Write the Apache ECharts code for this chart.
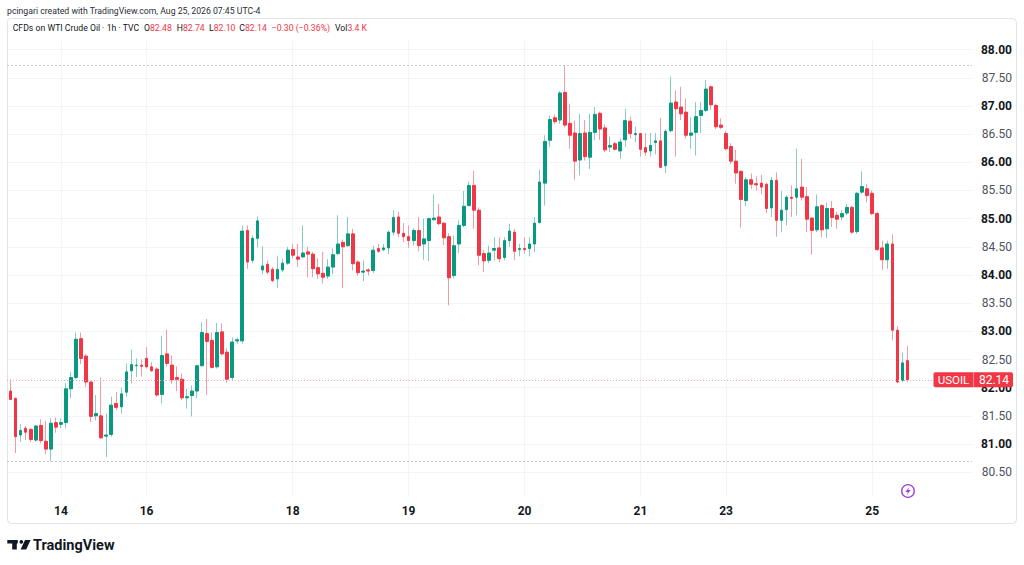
<!DOCTYPE html>
<html><head><meta charset="utf-8">
<script src="https://cdn.jsdelivr.net/npm/echarts@6/dist/echarts.min.js"></script>
<style>html,body{margin:0;padding:0;background:#fff}#c{width:1024px;height:565px}</style>
</head><body><div id="c"></div>
<script>
// ---- data (1h candles, Aug 13 – Aug 25) ----
const opens = [
82.60,81.94,81.81,81.16,81.28,81.26,81.07,81.33,81.05,80.91,
81.38,81.35,81.38,81.98,82.18,82.87,82.56,82.10,81.50,81.50,
81.14,81.17,81.72,81.66,81.92,82.30,82.39,82.40,82.52,82.37,
82.33,81.88,82.60,82.40,82.18,82.15,81.82,81.86,81.94,82.39,
82.96,82.84,82.37,82.99,82.63,82.18,82.83,82.83,84.79,84.26,
84.65,84.09,84.19,84.10,83.93,84.09,84.21,84.45,84.32,84.32,
84.41,84.37,84.13,84.03,83.98,84.14,84.38,84.58,84.52,84.73,
84.23,84.05,84.09,84.08,84.47,84.45,84.48,84.76,85.03,84.74,
84.68,84.61,84.79,84.55,84.61,84.98,85.03,84.92,84.68,83.99,
84.55,84.88,85.23,85.59,85.15,84.38,84.26,84.44,84.48,84.31,
84.61,84.76,84.45,84.47,84.47,84.55,84.93,85.63,86.39,86.79,
86.75,87.24,86.69,86.52,86.04,86.52,86.09,86.53,86.87,86.61,
86.27,86.33,86.20,86.40,86.73,86.49,86.51,86.26,86.20,86.35,
86.38,85.94,86.56,87.07,86.98,86.89,86.48,86.53,86.83,86.92,
87.34,87.01,86.66,86.51,86.28,86.02,85.84,85.32,85.69,85.62,
85.63,85.61,85.19,85.68,84.97,85.16,85.38,85.38,85.56,85.39,
85.01,84.80,85.23,84.82,85.18,85.06,85.03,85.10,85.20,84.77,
85.47,85.53,85.45,85.09,84.48,84.27,84.55,83.02,82.13,82.48];
const closes = [
81.95,81.79,81.13,81.24,81.21,81.08,81.32,81.06,80.91,81.37,
81.30,81.38,81.98,82.18,82.86,82.52,82.10,81.49,81.54,81.11,
81.16,81.69,81.65,81.89,82.28,82.41,82.40,82.38,82.37,82.30,
81.87,82.57,82.43,82.14,82.15,81.82,81.84,81.94,82.39,82.98,
82.82,82.36,82.98,82.60,82.15,82.81,82.85,84.78,84.23,84.65,
84.96,84.16,84.05,83.90,84.10,84.21,84.44,84.35,84.28,84.39,
84.37,84.11,84.02,83.96,84.14,84.36,84.55,84.50,84.73,84.20,
84.04,84.07,84.07,84.44,84.42,84.48,84.76,85.02,84.74,84.68,
84.61,84.79,84.52,84.64,85.00,85.01,84.91,84.66,83.95,84.52,
84.88,85.22,85.59,85.15,84.35,84.25,84.39,84.47,84.29,84.61,
84.78,84.42,84.47,84.45,84.55,84.92,85.65,86.37,86.76,86.72,
87.23,86.66,86.48,86.02,86.51,86.10,86.53,86.85,86.59,86.22,
86.30,86.23,86.36,86.74,86.51,86.51,86.23,86.18,86.30,86.38,
85.91,86.55,87.05,86.95,86.86,86.48,86.52,86.81,86.92,87.30,
87.02,86.63,86.62,86.24,86.02,85.81,85.34,85.69,85.61,85.60,
85.56,85.18,85.68,84.97,85.15,85.38,85.36,85.53,85.38,84.99,
84.79,85.21,84.80,85.18,85.02,84.99,85.09,85.20,84.76,85.45,
85.57,85.41,85.09,84.45,84.27,84.55,83.02,82.10,82.44,82.14];
const highs = [
82.62,82.15,81.83,81.35,81.32,81.28,81.34,81.44,81.41,81.46,
81.47,81.46,82.08,82.28,82.98,82.98,82.60,82.12,81.87,82.18,
81.54,81.84,81.92,82.00,82.43,82.68,82.52,82.50,82.72,82.45,
82.36,82.92,83.03,82.57,82.38,82.25,81.98,82.04,82.41,83.16,
83.22,82.98,83.15,83.14,82.70,82.89,82.89,84.88,84.88,84.70,
85.04,84.51,84.26,84.14,84.33,84.29,84.50,84.55,84.55,84.88,
84.50,84.41,84.29,84.41,84.28,84.47,85.06,84.63,85.03,84.82,
84.26,84.26,84.12,84.52,84.55,84.55,84.79,85.15,85.12,84.92,
84.88,84.83,85.03,85.00,85.02,85.43,85.26,84.93,84.74,84.70,
84.97,85.49,85.66,85.85,85.20,84.44,84.52,84.67,84.67,84.67,
84.91,84.82,84.55,84.67,84.67,85.03,85.87,86.48,86.83,86.85,
87.26,87.72,87.04,86.74,86.86,86.75,86.86,86.98,86.90,86.67,
86.46,86.36,86.42,86.95,86.81,86.63,86.52,86.52,86.52,86.52,
86.79,86.59,87.52,87.27,87.34,87.13,86.80,87.07,87.07,87.46,
87.36,87.04,86.78,86.56,86.34,86.22,85.85,85.74,85.80,85.75,
85.78,85.64,85.74,85.82,85.49,85.41,85.59,86.24,86.06,85.56,
85.03,85.43,85.26,85.28,85.31,85.12,85.15,85.26,85.23,85.47,
85.84,85.61,85.50,85.12,84.61,84.61,84.72,83.09,82.62,82.74];
const lows = [
81.90,81.78,80.84,81.04,81.07,81.03,81.04,81.01,80.82,80.70,
81.20,81.28,81.28,81.81,82.15,82.42,82.01,81.39,81.42,81.09,
80.77,81.13,81.60,81.54,81.84,82.08,82.19,82.20,82.34,82.28,
81.84,81.72,82.37,82.07,81.94,81.78,81.63,81.49,81.81,82.37,
81.87,82.34,82.34,82.57,82.09,82.13,82.78,82.78,84.11,84.21,
84.49,84.01,84.01,83.87,83.77,84.05,84.18,84.29,84.14,84.31,
83.96,83.96,83.93,83.85,83.93,84.01,84.35,83.77,84.50,84.08,
83.98,83.89,83.99,84.03,84.39,84.42,84.37,84.70,84.67,84.58,
84.48,84.52,84.42,84.27,84.25,84.97,84.88,84.53,83.46,83.94,
84.39,84.85,85.22,84.82,84.17,84.05,84.21,84.26,84.23,84.26,
84.50,84.26,84.33,84.38,84.33,84.41,84.91,85.23,86.27,86.68,
86.68,86.62,86.24,85.69,85.77,86.03,85.88,86.39,86.40,86.18,
86.18,86.21,86.06,86.27,86.42,86.35,86.10,86.12,86.10,86.14,
85.90,85.81,86.53,86.10,86.75,86.42,86.24,86.12,86.52,86.89,
86.93,86.59,86.59,86.21,85.97,85.62,84.84,85.22,85.53,85.50,
85.43,85.10,85.03,84.68,84.76,84.88,85.03,85.06,85.32,84.76,
84.36,84.76,84.67,84.66,84.85,84.82,84.97,85.06,84.73,84.73,
85.44,85.29,85.06,84.43,84.09,84.11,82.84,82.08,82.10,82.10];
const dayTickIndex  = [11, 28, 57, 80, 103, 126, 143, 172];
const dayTickLabels = ['14','16','18','19','20','21','23','25'];
const priceTicks = [80.5,81,81.5,82,82.5,83,83.5,84,84.5,85,85.5,86,86.5,87,87.5,88];
const symbolName = 'USOIL';
const titleText = 'CFDs on WTI Crude Oil · 1h · TVC';
const creditText = 'pcingari created with TradingView.com, Aug 25, 2026 07:45 UTC-4';
const volumeText = '3.4 K';

// ---- styling ----
const FONT = 'Roboto, "Liberation Sans", sans-serif';
const UP = '#089981', DOWN = '#f23645';
const UP_WICK = '#86cdbf', DOWN_WICK = '#f59aa3';

const wickData = opens.map((o, i) => [i, o, closes[i], lows[i], highs[i]]);
const bodyData = opens.map((o, i) => [i, o, closes[i], Math.min(o, closes[i]), Math.max(o, closes[i])]);
const n = closes.length;
const lastO = opens[n-1], lastH = highs[n-1], lastL = lows[n-1], lastC = closes[n-1];
const chg = lastC - closes[n-2];
const pct = chg / closes[n-2] * 100;
const fmtSigned = v => (v < 0 ? '\u2212' : '+') + Math.abs(v).toFixed(2);
const maxHigh = Math.max(...highs), minLow = Math.min(...lows);

const chart = echarts.init(document.getElementById('c'), null, {renderer: 'svg'});

function txt(x, y, text, style, z) {
  return {type: 'text', x: x, y: y, silent: true, z: z || 100,
    style: Object.assign({text: text, fontFamily: FONT, fontSize: 8.7, fill: '#131722',
      verticalAlign: 'middle', align: 'left'}, style || {})};
}
const richKV = {k: {fill: '#131722', fontSize: 8.7, fontFamily: FONT, color: '#131722'},
                v: {fill: DOWN, fontSize: 8.7, fontFamily: FONT, color: DOWN}};

chart.setOption({
  animation: false,
  backgroundColor: '#ffffff',
  grid: {left: 7, right: 52, top: 40, height: 457},
  xAxis: {
    type: 'value', min: 0.3, max: 191.8,
    axisLine: {show: false},
    axisTick: {show: false, customValues: dayTickIndex},
    axisLabel: {
      customValues: dayTickIndex,
      formatter: v => dayTickLabels[dayTickIndex.indexOf(Math.round(v))] || '',
      fontFamily: FONT, fontSize: 12, fontWeight: 'bold', color: '#131722', margin: 8
    },
    splitLine: {show: true, lineStyle: {color: '#f3f4f7', width: 1}}
  },
  yAxis: {
    type: 'value', position: 'right', min: 80.06, max: 88.17, scale: true,
    axisLine: {show: false},
    axisTick: {show: false, customValues: priceTicks},
    axisLabel: {
      customValues: priceTicks,
      align: 'right', margin: 40,
      formatter: v => (Math.abs(v - Math.round(v)) < 1e-6 ? '{b|' : '{r|') + v.toFixed(2) + '}',
      rich: {
        b: {fontFamily: FONT, fontSize: 12, fontWeight: 'bold', color: '#131722'},
        r: {fontFamily: FONT, fontSize: 12, color: '#50535e'}
      }
    },
    splitLine: {show: true, lineStyle: {color: '#f3f4f7', width: 1}}
  },
  series: [
    {
      name: 'wick', type: 'candlestick', clip: true, z: 2,
      encode: {x: 0, y: [1, 2, 3, 4]},
      barWidth: 1,
      itemStyle: {color: UP_WICK, color0: DOWN_WICK, borderColor: UP_WICK, borderColor0: DOWN_WICK, borderWidth: 1},
      data: wickData
    },
    {
      name: 'body', type: 'candlestick', clip: true, z: 3,
      encode: {x: 0, y: [1, 2, 3, 4]},
      barWidth: 3.2,
      itemStyle: {color: UP, color0: DOWN, borderColor: UP, borderColor0: DOWN, borderWidth: 1},
      data: bodyData,
      markLine: {
        silent: true, symbol: ['none', 'none'], label: {show: false}, animation: false,
        data: [
          {yAxis: maxHigh, lineStyle: {color: '#c3c6ce', type: [2, 2], width: 1}},
          {yAxis: minLow, lineStyle: {color: '#c3c6ce', type: [2, 2], width: 1}},
          {yAxis: lastC, lineStyle: {color: '#f6a5ad', type: [1, 2], width: 1}}
        ]
      }
    }
  ]
});

const py = chart.convertToPixel({yAxisIndex: 0}, lastC);

chart.setOption({
  graphic: [
    // frame
    {type: 'rect', silent: true, z: 0, shape: {x: 7.5, y: 18.5, width: 1009, height: 505, r: 4},
     style: {fill: 'none', stroke: '#e0e3eb', lineWidth: 1}},
    // header
    txt(7, 10.5, creditText, {fill: '#2a2e39'}),
    txt(12.7, 28, titleText),
    txt(144, 28, '{k|O}{v|' + lastO.toFixed(2) + '}', {rich: richKV}),
    txt(176.7, 28, '{k|H}{v|' + lastH.toFixed(2) + '}', {rich: richKV}),
    txt(209, 28, '{k|L}{v|' + lastL.toFixed(2) + '}', {rich: richKV}),
    txt(239.3, 28, '{k|C}{v|' + lastC.toFixed(2) + '}', {rich: richKV}),
    txt(271.7, 28, fmtSigned(chg) + ' (' + fmtSigned(pct) + '%)', {fill: DOWN}),
    txt(335, 28, '{k|Vol}{v|' + volumeText + '}', {rich: richKV}),
    // last price tag
    {type: 'rect', silent: true, z: 110, shape: {x: 933.5, y: py - 7.5, width: 79.5, height: 15, r: 2},
     style: {fill: DOWN}},
    {type: 'line', silent: true, z: 111, shape: {x1: 973.5, y1: py - 7.5, x2: 973.5, y2: py + 7.5},
     style: {stroke: 'rgba(255,255,255,0.45)', lineWidth: 1}},
    txt(953.5, py, symbolName, {fill: '#ffffff', fontSize: 11.5, align: 'center'}, 120),
    txt(994, py, lastC.toFixed(2), {fill: '#ffffff', fontSize: 12, align: 'center'}, 120),
    // lightning icon
    {type: 'circle', silent: true, z: 100, shape: {cx: 908, cy: 491, r: 6.3},
     style: {fill: 'none', stroke: '#9b3fd6', lineWidth: 1.3}},
    {type: 'polygon', silent: true, z: 100,
     shape: {points: [[909.6, 486.6], [905.4, 491.9], [907.9, 491.9], [906.5, 495.4], [910.6, 489.9], [908.1, 489.9]]},
     style: {fill: '#9b3fd6'}},
    // TradingView logo
    {type: 'rect', silent: true, z: 100, shape: {x: 7.3, y: 540, width: 10.5, height: 3.4}, style: {fill: '#131722'}},
    {type: 'rect', silent: true, z: 100, shape: {x: 12.2, y: 540, width: 4.6, height: 9.4}, style: {fill: '#131722'}},
    {type: 'circle', silent: true, z: 100, shape: {cx: 21.3, cy: 541.8, r: 1.9}, style: {fill: '#131722'}},
    {type: 'polygon', silent: true, z: 100, shape: {points: [[25, 540], [30.6, 540], [26.2, 549.4], [20.6, 549.4]]}, style: {fill: '#131722'}},
    txt(33, 545, 'TradingView', {fontSize: 14.5, fontWeight: 'bold', fill: '#131722'})
  ]
});
</script>
</body></html>
